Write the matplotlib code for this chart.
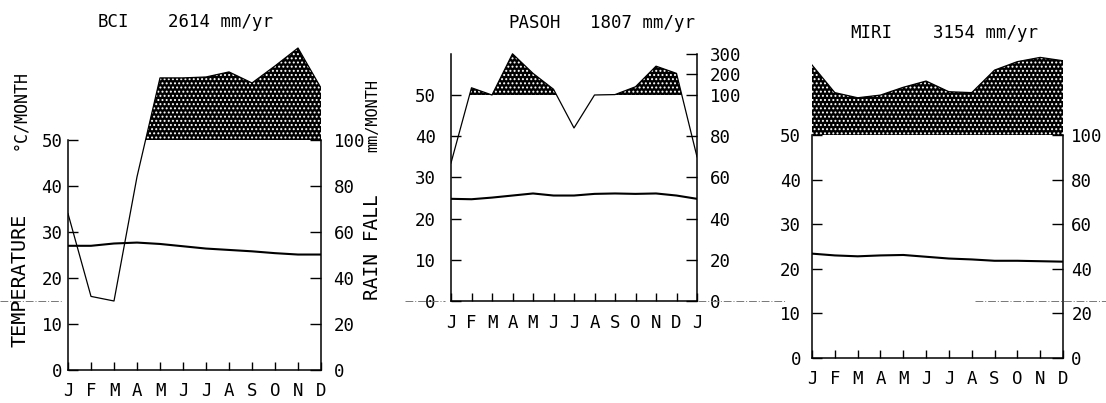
#!/usr/bin/env python3
"""Climate diagrams for BCI, Pasoh and Miri"""
import numpy as np
import matplotlib
matplotlib.use('Agg')
import matplotlib.pyplot as plt
from matplotlib.lines import Line2D

plt.rcParams['font.family'] = ['DejaVu Sans Mono', 'DejaVu Sans']
plt.rcParams['hatch.linewidth'] = 0.9
plt.rcParams['hatch.color'] = 'white'

W, H = 1106, 403

# monthly values (temperature in C, rain in mm)
months_12 = ['J', 'F', 'M', 'A', 'M', 'J', 'J', 'A', 'S', 'O', 'N', 'D']
months_13 = months_12 + ['J']

bci_temp = [27.0, 27.0, 27.5, 27.7, 27.4, 26.9, 26.4, 26.1, 25.8, 25.4, 25.1, 25.1]
bci_rain = [68, 32, 30, 84, 370, 370, 374, 396, 348, 422, 500, 326]

pasoh_temp = [24.8, 24.7, 25.1, 25.6, 26.1, 25.6, 25.6, 26.0, 26.1, 26.0, 26.1, 25.6, 24.8]
pasoh_rain = [67, 135, 100, 300, 205, 128, 84, 100, 102, 140, 240, 205, 70]

miri_temp = [23.4, 23.0, 22.8, 23.0, 23.1, 22.7, 22.3, 22.1, 21.8, 21.8, 21.7, 21.6]
miri_rain = [414, 290, 267, 279, 314, 342, 294, 290, 391, 429, 448, 433]

temp_ticks = [0, 10, 20, 30, 40, 50]
rain_ticks = [0, 20, 40, 60, 80, 100]
rain_ticks_pasoh = [0, 20, 40, 60, 80, 100, 200, 300]


def rain_units(mm):
    # Walter scale: 20 mm = 10 C, above 100 mm compressed 1/10
    mm = np.asarray(mm, dtype=float)
    return np.where(mm <= 100, mm / 2.0, 50 + (mm - 100) / 20.0)


fig = plt.figure(figsize=(W / 100, H / 100), dpi=100)


def walter(months, temp, rain, box, rticks, spine_top, lpad, rpad):
    x0, x1, y0, ppu, top = box
    ax = fig.add_axes([x0 / W, (H - y0) / H, (x1 - x0) / W, top * ppu / H])
    x = np.arange(len(months))
    r = rain_units(rain)
    ax.fill_between(x, 50, r, where=r > 50, interpolate=True,
                    facecolor='black', edgecolor='white', hatch='....', linewidth=0)
    ax.plot(x, r, color='black', lw=0.9)
    ax.plot(x, temp, color='black', lw=1.5)
    ax.set_xlim(0, len(months) - 1)
    ax.set_ylim(0, top)
    ax.set_xticks(x, months, fontsize=12.5)
    ax.set_yticks(temp_ticks, [str(t) for t in temp_ticks], fontsize=12.5)
    ax.tick_params(axis='x', direction='in', length=6, width=1, pad=9)
    ax.tick_params(axis='y', direction='in', length=7, width=1, pad=lpad)
    for s in ['top', 'right']:
        ax.spines[s].set_visible(False)
    ax.spines['left'].set_bounds(0, spine_top)
    for s in ['left', 'bottom']:
        ax.spines[s].set_linewidth(1.1)

    ax2 = ax.twinx()
    ax2.set_ylim(0, top)
    ax2.set_yticks(rain_units(rticks), [str(t) for t in rticks], fontsize=12.5)
    ax2.tick_params(axis='y', direction='in', length=8, width=1, pad=rpad)
    for s in ['top', 'left', 'bottom']:
        ax2.spines[s].set_visible(False)
    ax2.spines['right'].set_bounds(0, spine_top)
    ax2.spines['right'].set_linewidth(1.1)
    return ax


walter(months_12, bci_temp, bci_rain, (68, 321, 370, 4.6, 72), rain_ticks, 50, 4, 9)
walter(months_13, pasoh_temp, pasoh_rain, (451, 697, 301, 4.12, 62), rain_ticks_pasoh, 60, 11, 9)
walter(months_12, miri_temp, miri_rain, (812, 1063, 358, 4.46, 69), rain_ticks, 50, 8, 6)


def ftext(px, py, s, **kw):
    fig.text(px / W, 1 - py / H, s, **kw)


# titles
ftext(98, 22, 'BCI', fontsize=12.5, va='center')
ftext(168, 22, '2614 mm/yr', fontsize=12.5, va='center')
ftext(508, 23, 'PASOH', fontsize=12.5, va='center')
ftext(590, 23, '1807 mm/yr', fontsize=12.5, va='center')
ftext(850, 33, 'MIRI', fontsize=12.5, va='center')
ftext(933, 33, '3154 mm/yr', fontsize=12.5, va='center')

# axis titles
ftext(20, 110, '°C/MONTH', fontsize=12, rotation=90, ha='center', va='center')
ftext(20, 280, 'TEMPERATURE', fontsize=14.5, rotation=90, ha='center', va='center')
ftext(373, 116, 'mm/MONTH', fontsize=11, rotation=90, ha='center', va='center')
ftext(373, 247, 'RAIN FALL', fontsize=14, rotation=90, ha='center', va='center')

# faint scan line running across the page
for xa, xb in [(0, 62), (405, 445), (698, 785), (975, 1106)]:
    fig.add_artist(Line2D([xa / W, xb / W], [1 - 301 / H, 1 - 301 / H],
                          transform=fig.transFigure, color='#777777', lw=0.7,
                          linestyle=(0, (8, 2, 1, 2))))

plt.savefig('out.png', dpi=100)
plt.close()
